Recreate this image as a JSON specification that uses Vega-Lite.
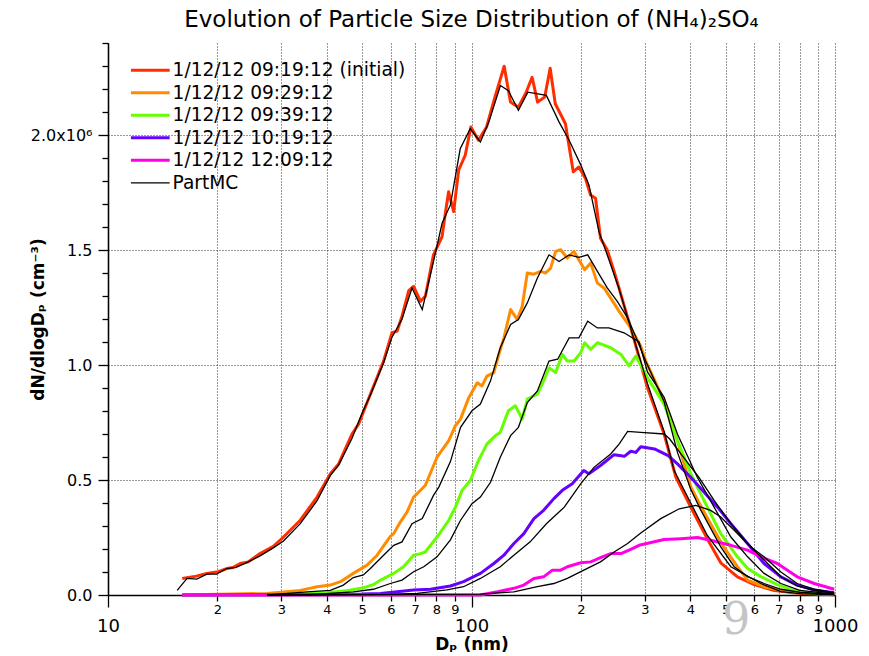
{
"$schema": "https://vega.github.io/schema/vega-lite/v6.json",
"width": 727, "height": 552,
"autosize": {"type": "none"},
"padding": {"left": 108, "top": 43, "right": 34, "bottom": 61},
"background": "white",
"title": {"text": "Evolution of Particle Size Distribution of (NH₄)₂SO₄", "fontSize": 23, "font": "DejaVu Sans", "fontWeight": "normal", "anchor": "middle", "offset": 10, "color": "black"},
"config": {
 "view": {"stroke": null},
 "axis": {"domainColor": "black", "tickColor": "black", "labelColor": "black", "titleColor": "black", "gridColor": "#333", "gridDash": [1, 2], "gridOpacity": 1, "gridWidth": 1, "labelFont": "DejaVu Sans", "titleFont": "DejaVu Sans", "domainWidth": 1.3, "tickWidth": 1.3}
},
"datasets": {
 "meas": [
{"s":"1/12/12 09:19:12 (initial)","d":16,"v":72000},{"s":"1/12/12 09:19:12 (initial)","d":17.5,"v":82000},{"s":"1/12/12 09:19:12 (initial)","d":18.7,"v":94000},{"s":"1/12/12 09:19:12 (initial)","d":20.1,"v":101000},{"s":"1/12/12 09:19:12 (initial)","d":21.2,"v":115000},{"s":"1/12/12 09:19:12 (initial)","d":22.1,"v":120000},{"s":"1/12/12 09:19:12 (initial)","d":23.1,"v":137000},{"s":"1/12/12 09:19:12 (initial)","d":24.3,"v":144000},{"s":"1/12/12 09:19:12 (initial)","d":26.2,"v":180000},{"s":"1/12/12 09:19:12 (initial)","d":28.5,"v":212000},{"s":"1/12/12 09:19:12 (initial)","d":30.4,"v":252000},{"s":"1/12/12 09:19:12 (initial)","d":33.8,"v":325000},{"s":"1/12/12 09:19:12 (initial)","d":37.6,"v":426000},{"s":"1/12/12 09:19:12 (initial)","d":40.9,"v":527000},{"s":"1/12/12 09:19:12 (initial)","d":43.1,"v":570000},{"s":"1/12/12 09:19:12 (initial)","d":46.9,"v":700000},{"s":"1/12/12 09:19:12 (initial)","d":48.9,"v":743000},{"s":"1/12/12 09:19:12 (initial)","d":52.7,"v":873000},{"s":"1/12/12 09:19:12 (initial)","d":57.3,"v":1017000},{"s":"1/12/12 09:19:12 (initial)","d":60.4,"v":1140000},{"s":"1/12/12 09:19:12 (initial)","d":62.4,"v":1147000},{"s":"1/12/12 09:19:12 (initial)","d":64.4,"v":1212000},{"s":"1/12/12 09:19:12 (initial)","d":67.2,"v":1323000},{"s":"1/12/12 09:19:12 (initial)","d":69.3,"v":1342000},{"s":"1/12/12 09:19:12 (initial)","d":72.4,"v":1277000},{"s":"1/12/12 09:19:12 (initial)","d":74.7,"v":1300000},{"s":"1/12/12 09:19:12 (initial)","d":78.6,"v":1479000},{"s":"1/12/12 09:19:12 (initial)","d":83,"v":1558000},{"s":"1/12/12 09:19:12 (initial)","d":84.6,"v":1652000},{"s":"1/12/12 09:19:12 (initial)","d":86.5,"v":1753000},{"s":"1/12/12 09:19:12 (initial)","d":89.3,"v":1667000},{"s":"1/12/12 09:19:12 (initial)","d":92.2,"v":1847000},{"s":"1/12/12 09:19:12 (initial)","d":96.1,"v":1912000},{"s":"1/12/12 09:19:12 (initial)","d":99.6,"v":2035000},{"s":"1/12/12 09:19:12 (initial)","d":104.5,"v":1977000},{"s":"1/12/12 09:19:12 (initial)","d":110,"v":2035000},{"s":"1/12/12 09:19:12 (initial)","d":116,"v":2165000},{"s":"1/12/12 09:19:12 (initial)","d":123,"v":2299000},{"s":"1/12/12 09:19:12 (initial)","d":128,"v":2143000},{"s":"1/12/12 09:19:12 (initial)","d":134.6,"v":2121000},{"s":"1/12/12 09:19:12 (initial)","d":141.4,"v":2186000},{"s":"1/12/12 09:19:12 (initial)","d":146.8,"v":2251000},{"s":"1/12/12 09:19:12 (initial)","d":152,"v":2143000},{"s":"1/12/12 09:19:12 (initial)","d":159,"v":2165000},{"s":"1/12/12 09:19:12 (initial)","d":164.6,"v":2290000},{"s":"1/12/12 09:19:12 (initial)","d":170,"v":2136000},{"s":"1/12/12 09:19:12 (initial)","d":181.3,"v":2049000},{"s":"1/12/12 09:19:12 (initial)","d":190.5,"v":1840000},{"s":"1/12/12 09:19:12 (initial)","d":197.4,"v":1861000},{"s":"1/12/12 09:19:12 (initial)","d":206,"v":1810000},{"s":"1/12/12 09:19:12 (initial)","d":212.6,"v":1739000},{"s":"1/12/12 09:19:12 (initial)","d":219.4,"v":1725000},{"s":"1/12/12 09:19:12 (initial)","d":226.4,"v":1551000},{"s":"1/12/12 09:19:12 (initial)","d":236.3,"v":1500000},{"s":"1/12/12 09:19:12 (initial)","d":246.8,"v":1407000},{"s":"1/12/12 09:19:12 (initial)","d":257.7,"v":1306000},{"s":"1/12/12 09:19:12 (initial)","d":280.9,"v":1104000},{"s":"1/12/12 09:19:12 (initial)","d":304.8,"v":902000},{"s":"1/12/12 09:19:12 (initial)","d":338.8,"v":700000},{"s":"1/12/12 09:19:12 (initial)","d":365,"v":512000},{"s":"1/12/12 09:19:12 (initial)","d":401,"v":382000},{"s":"1/12/12 09:19:12 (initial)","d":445,"v":245000},{"s":"1/12/12 09:19:12 (initial)","d":485,"v":140000},{"s":"1/12/12 09:19:12 (initial)","d":539,"v":79000},{"s":"1/12/12 09:19:12 (initial)","d":600,"v":45000},{"s":"1/12/12 09:19:12 (initial)","d":681,"v":19000},{"s":"1/12/12 09:19:12 (initial)","d":805,"v":7000},{"s":"1/12/12 09:19:12 (initial)","d":995,"v":1000},
{"s":"1/12/12 09:29:12","d":16,"v":0},{"s":"1/12/12 09:29:12","d":27.4,"v":7000},{"s":"1/12/12 09:29:12","d":33.8,"v":20000},{"s":"1/12/12 09:29:12","d":37.6,"v":36000},{"s":"1/12/12 09:29:12","d":40.9,"v":43000},{"s":"1/12/12 09:29:12","d":43.6,"v":58000},{"s":"1/12/12 09:29:12","d":47.3,"v":94000},{"s":"1/12/12 09:29:12","d":51.6,"v":130000},{"s":"1/12/12 09:29:12","d":55,"v":173000},{"s":"1/12/12 09:29:12","d":59.8,"v":255000},{"s":"1/12/12 09:29:12","d":61.1,"v":267000},{"s":"1/12/12 09:29:12","d":63.7,"v":317000},{"s":"1/12/12 09:29:12","d":66.5,"v":361000},{"s":"1/12/12 09:29:12","d":69.3,"v":426000},{"s":"1/12/12 09:29:12","d":70.8,"v":440000},{"s":"1/12/12 09:29:12","d":74.6,"v":476000},{"s":"1/12/12 09:29:12","d":80.4,"v":599000},{"s":"1/12/12 09:29:12","d":86.6,"v":671000},{"s":"1/12/12 09:29:12","d":90.3,"v":736000},{"s":"1/12/12 09:29:12","d":93.3,"v":765000},{"s":"1/12/12 09:29:12","d":98.3,"v":858000},{"s":"1/12/12 09:29:12","d":103.7,"v":923000},{"s":"1/12/12 09:29:12","d":106.9,"v":909000},{"s":"1/12/12 09:29:12","d":110.3,"v":952000},{"s":"1/12/12 09:29:12","d":115.2,"v":967000},{"s":"1/12/12 09:29:12","d":118.9,"v":1046000},{"s":"1/12/12 09:29:12","d":122.8,"v":1118000},{"s":"1/12/12 09:29:12","d":128.1,"v":1241000},{"s":"1/12/12 09:29:12","d":133.6,"v":1198000},{"s":"1/12/12 09:29:12","d":137.9,"v":1255000},{"s":"1/12/12 09:29:12","d":142.4,"v":1400000},{"s":"1/12/12 09:29:12","d":148.5,"v":1395000},{"s":"1/12/12 09:29:12","d":154.9,"v":1407000},{"s":"1/12/12 09:29:12","d":159.9,"v":1400000},{"s":"1/12/12 09:29:12","d":165.1,"v":1421000},{"s":"1/12/12 09:29:12","d":170.4,"v":1494000},{"s":"1/12/12 09:29:12","d":175.9,"v":1501000},{"s":"1/12/12 09:29:12","d":183.5,"v":1465000},{"s":"1/12/12 09:29:12","d":191.4,"v":1494000},{"s":"1/12/12 09:29:12","d":204.8,"v":1414000},{"s":"1/12/12 09:29:12","d":212.8,"v":1443000},{"s":"1/12/12 09:29:12","d":222,"v":1356000},{"s":"1/12/12 09:29:12","d":231.5,"v":1335000},{"s":"1/12/12 09:29:12","d":241.5,"v":1291000},{"s":"1/12/12 09:29:12","d":254.6,"v":1234000},{"s":"1/12/12 09:29:12","d":274.2,"v":1161000},{"s":"1/12/12 09:29:12","d":292.2,"v":1082000},{"s":"1/12/12 09:29:12","d":301.5,"v":1017000},{"s":"1/12/12 09:29:12","d":338.8,"v":844000},{"s":"1/12/12 09:29:12","d":368.6,"v":671000},{"s":"1/12/12 09:29:12","d":401,"v":470000},{"s":"1/12/12 09:29:12","d":436.5,"v":360000},{"s":"1/12/12 09:29:12","d":494,"v":209000},{"s":"1/12/12 09:29:12","d":539,"v":123000},{"s":"1/12/12 09:29:12","d":575,"v":65000},{"s":"1/12/12 09:29:12","d":638,"v":36000},{"s":"1/12/12 09:29:12","d":741,"v":14000},{"s":"1/12/12 09:29:12","d":877,"v":7000},{"s":"1/12/12 09:29:12","d":995,"v":4000},
{"s":"1/12/12 09:39:12","d":16,"v":0},{"s":"1/12/12 09:39:12","d":30,"v":2000},{"s":"1/12/12 09:39:12","d":35,"v":5000},{"s":"1/12/12 09:39:12","d":40,"v":10000},{"s":"1/12/12 09:39:12","d":45,"v":18000},{"s":"1/12/12 09:39:12","d":50,"v":30000},{"s":"1/12/12 09:39:12","d":53.7,"v":45000},{"s":"1/12/12 09:39:12","d":56.2,"v":65000},{"s":"1/12/12 09:39:12","d":61.1,"v":94000},{"s":"1/12/12 09:39:12","d":65,"v":123000},{"s":"1/12/12 09:39:12","d":69.3,"v":173000},{"s":"1/12/12 09:39:12","d":72.4,"v":180000},{"s":"1/12/12 09:39:12","d":74.6,"v":187000},{"s":"1/12/12 09:39:12","d":80.4,"v":252000},{"s":"1/12/12 09:39:12","d":86.6,"v":325000},{"s":"1/12/12 09:39:12","d":90.3,"v":382000},{"s":"1/12/12 09:39:12","d":94.2,"v":455000},{"s":"1/12/12 09:39:12","d":99.2,"v":498000},{"s":"1/12/12 09:39:12","d":104.5,"v":584000},{"s":"1/12/12 09:39:12","d":110.3,"v":657000},{"s":"1/12/12 09:39:12","d":116.5,"v":693000},{"s":"1/12/12 09:39:12","d":120,"v":707000},{"s":"1/12/12 09:39:12","d":126.3,"v":801000},{"s":"1/12/12 09:39:12","d":132,"v":823000},{"s":"1/12/12 09:39:12","d":137.9,"v":765000},{"s":"1/12/12 09:39:12","d":142.4,"v":852000},{"s":"1/12/12 09:39:12","d":151.8,"v":873000},{"s":"1/12/12 09:39:12","d":157.9,"v":931000},{"s":"1/12/12 09:39:12","d":163.4,"v":988000},{"s":"1/12/12 09:39:12","d":170.4,"v":967000},{"s":"1/12/12 09:39:12","d":177.8,"v":1046000},{"s":"1/12/12 09:39:12","d":183.5,"v":1017000},{"s":"1/12/12 09:39:12","d":191.4,"v":1017000},{"s":"1/12/12 09:39:12","d":199.7,"v":1053000},{"s":"1/12/12 09:39:12","d":204.8,"v":1097000},{"s":"1/12/12 09:39:12","d":212.8,"v":1068000},{"s":"1/12/12 09:39:12","d":222,"v":1097000},{"s":"1/12/12 09:39:12","d":241.5,"v":1075000},{"s":"1/12/12 09:39:12","d":257.7,"v":1046000},{"s":"1/12/12 09:39:12","d":271.3,"v":996000},{"s":"1/12/12 09:39:12","d":283.1,"v":1039000},{"s":"1/12/12 09:39:12","d":304.8,"v":945000},{"s":"1/12/12 09:39:12","d":338.8,"v":830000},{"s":"1/12/12 09:39:12","d":368.6,"v":671000},{"s":"1/12/12 09:39:12","d":401,"v":527000},{"s":"1/12/12 09:39:12","d":450,"v":368000},{"s":"1/12/12 09:39:12","d":485,"v":267000},{"s":"1/12/12 09:39:12","d":539,"v":166000},{"s":"1/12/12 09:39:12","d":575,"v":115000},{"s":"1/12/12 09:39:12","d":625,"v":80000},{"s":"1/12/12 09:39:12","d":694,"v":45000},{"s":"1/12/12 09:39:12","d":760,"v":22000},{"s":"1/12/12 09:39:12","d":840,"v":10000},{"s":"1/12/12 09:39:12","d":995,"v":4000},
{"s":"1/12/12 10:19:12","d":16,"v":0},{"s":"1/12/12 10:19:12","d":40,"v":2000},{"s":"1/12/12 10:19:12","d":50,"v":4000},{"s":"1/12/12 10:19:12","d":56.2,"v":7000},{"s":"1/12/12 10:19:12","d":69.3,"v":22000},{"s":"1/12/12 10:19:12","d":77.1,"v":25000},{"s":"1/12/12 10:19:12","d":87.5,"v":39000},{"s":"1/12/12 10:19:12","d":95.1,"v":58000},{"s":"1/12/12 10:19:12","d":105.8,"v":94000},{"s":"1/12/12 10:19:12","d":115.2,"v":137000},{"s":"1/12/12 10:19:12","d":122.8,"v":173000},{"s":"1/12/12 10:19:12","d":130.8,"v":224000},{"s":"1/12/12 10:19:12","d":139.3,"v":267000},{"s":"1/12/12 10:19:12","d":148.5,"v":332000},{"s":"1/12/12 10:19:12","d":157.9,"v":368000},{"s":"1/12/12 10:19:12","d":168.5,"v":419000},{"s":"1/12/12 10:19:12","d":177.8,"v":455000},{"s":"1/12/12 10:19:12","d":189.3,"v":484000},{"s":"1/12/12 10:19:12","d":203.7,"v":541000},{"s":"1/12/12 10:19:12","d":210.3,"v":527000},{"s":"1/12/12 10:19:12","d":226.4,"v":563000},{"s":"1/12/12 10:19:12","d":246.8,"v":610000},{"s":"1/12/12 10:19:12","d":263.3,"v":603000},{"s":"1/12/12 10:19:12","d":274.2,"v":625000},{"s":"1/12/12 10:19:12","d":283.1,"v":620000},{"s":"1/12/12 10:19:12","d":292.2,"v":645000},{"s":"1/12/12 10:19:12","d":318.7,"v":635000},{"s":"1/12/12 10:19:12","d":347.6,"v":606000},{"s":"1/12/12 10:19:12","d":368.6,"v":570000},{"s":"1/12/12 10:19:12","d":401,"v":512000},{"s":"1/12/12 10:19:12","d":436.5,"v":447000},{"s":"1/12/12 10:19:12","d":475.2,"v":382000},{"s":"1/12/12 10:19:12","d":517,"v":310000},{"s":"1/12/12 10:19:12","d":574.6,"v":224000},{"s":"1/12/12 10:19:12","d":638,"v":137000},{"s":"1/12/12 10:19:12","d":709.7,"v":79000},{"s":"1/12/12 10:19:12","d":787,"v":43000},{"s":"1/12/12 10:19:12","d":877,"v":22000},{"s":"1/12/12 10:19:12","d":995,"v":10000},
{"s":"1/12/12 12:09:12","d":16,"v":0},{"s":"1/12/12 12:09:12","d":105.8,"v":0},{"s":"1/12/12 12:09:12","d":118,"v":14000},{"s":"1/12/12 12:09:12","d":130.8,"v":29000},{"s":"1/12/12 12:09:12","d":139.3,"v":43000},{"s":"1/12/12 12:09:12","d":148.5,"v":72000},{"s":"1/12/12 12:09:12","d":157.9,"v":79000},{"s":"1/12/12 12:09:12","d":166.9,"v":108000},{"s":"1/12/12 12:09:12","d":175.9,"v":108000},{"s":"1/12/12 12:09:12","d":183.5,"v":123000},{"s":"1/12/12 12:09:12","d":199.9,"v":140000},{"s":"1/12/12 12:09:12","d":212.8,"v":144000},{"s":"1/12/12 12:09:12","d":226.4,"v":162000},{"s":"1/12/12 12:09:12","d":241.5,"v":180000},{"s":"1/12/12 12:09:12","d":257.7,"v":180000},{"s":"1/12/12 12:09:12","d":274.2,"v":198000},{"s":"1/12/12 12:09:12","d":289.1,"v":216000},{"s":"1/12/12 12:09:12","d":338.8,"v":241000},{"s":"1/12/12 12:09:12","d":376.8,"v":245000},{"s":"1/12/12 12:09:12","d":418.4,"v":250000},{"s":"1/12/12 12:09:12","d":455,"v":238000},{"s":"1/12/12 12:09:12","d":517,"v":216000},{"s":"1/12/12 12:09:12","d":575,"v":195000},{"s":"1/12/12 12:09:12","d":625,"v":166000},{"s":"1/12/12 12:09:12","d":694,"v":137000},{"s":"1/12/12 12:09:12","d":787,"v":79000},{"s":"1/12/12 12:09:12","d":877,"v":50000},{"s":"1/12/12 12:09:12","d":995,"v":25000}
 ],
 "model": [
{"s":"PartMC","r":1,"d":15.5,"v":20000},{"s":"PartMC","r":1,"d":16.5,"v":72000},{"s":"PartMC","r":1,"d":17.55,"v":69000},{"s":"PartMC","r":1,"d":18.7,"v":91000},{"s":"PartMC","r":1,"d":19.9,"v":91000},{"s":"PartMC","r":1,"d":21.2,"v":115000},{"s":"PartMC","r":1,"d":22.5,"v":120000},{"s":"PartMC","r":1,"d":24,"v":140000},{"s":"PartMC","r":1,"d":26.2,"v":170000},{"s":"PartMC","r":1,"d":28.5,"v":205000},{"s":"PartMC","r":1,"d":30.4,"v":235000},{"s":"PartMC","r":1,"d":33.8,"v":310000},{"s":"PartMC","r":1,"d":37.6,"v":410000},{"s":"PartMC","r":1,"d":40.9,"v":520000},{"s":"PartMC","r":1,"d":43.1,"v":565000},{"s":"PartMC","r":1,"d":46.9,"v":680000},{"s":"PartMC","r":1,"d":50,"v":790000},{"s":"PartMC","r":1,"d":52.7,"v":870000},{"s":"PartMC","r":1,"d":57.3,"v":1010000},{"s":"PartMC","r":1,"d":60.4,"v":1120000},{"s":"PartMC","r":1,"d":64.4,"v":1200000},{"s":"PartMC","r":1,"d":68.6,"v":1335000},{"s":"PartMC","r":1,"d":73.2,"v":1241000},{"s":"PartMC","r":1,"d":78.6,"v":1450000},{"s":"PartMC","r":1,"d":83,"v":1616000},{"s":"PartMC","r":1,"d":87.5,"v":1696000},{"s":"PartMC","r":1,"d":93.1,"v":1940000},{"s":"PartMC","r":1,"d":99.2,"v":2027000},{"s":"PartMC","r":1,"d":105.8,"v":1970000},{"s":"PartMC","r":1,"d":111.6,"v":2056000},{"s":"PartMC","r":1,"d":120.1,"v":2215000},{"s":"PartMC","r":1,"d":126.3,"v":2193000},{"s":"PartMC","r":1,"d":134.6,"v":2107000},{"s":"PartMC","r":1,"d":142.9,"v":2186000},{"s":"PartMC","r":1,"d":160.7,"v":2172000},{"s":"PartMC","r":1,"d":174.2,"v":2056000},{"s":"PartMC","r":1,"d":185.6,"v":1977000},{"s":"PartMC","r":1,"d":199.9,"v":1869000},{"s":"PartMC","r":1,"d":210.5,"v":1782000},{"s":"PartMC","r":1,"d":224.2,"v":1580000},{"s":"PartMC","r":1,"d":241.5,"v":1436000},{"s":"PartMC","r":1,"d":255,"v":1328000},{"s":"PartMC","r":1,"d":280.9,"v":1104000},{"s":"PartMC","r":1,"d":304.8,"v":920000},{"s":"PartMC","r":1,"d":338.8,"v":710000},{"s":"PartMC","r":1,"d":361,"v":541000},{"s":"PartMC","r":1,"d":401,"v":400000},{"s":"PartMC","r":1,"d":445,"v":260000},{"s":"PartMC","r":1,"d":517,"v":123000},{"s":"PartMC","r":1,"d":625,"v":50000},{"s":"PartMC","r":1,"d":710,"v":15000},{"s":"PartMC","r":1,"d":800,"v":6000},{"s":"PartMC","r":1,"d":995,"v":1000},
{"s":"PartMC","r":2,"d":27.4,"v":0},{"s":"PartMC","r":2,"d":35.3,"v":14000},{"s":"PartMC","r":2,"d":40.9,"v":20000},{"s":"PartMC","r":2,"d":44.4,"v":43000},{"s":"PartMC","r":2,"d":47.3,"v":76000},{"s":"PartMC","r":2,"d":50.4,"v":87000},{"s":"PartMC","r":2,"d":52.7,"v":115000},{"s":"PartMC","r":2,"d":57.3,"v":173000},{"s":"PartMC","r":2,"d":61.1,"v":216000},{"s":"PartMC","r":2,"d":64.4,"v":231000},{"s":"PartMC","r":2,"d":68.6,"v":310000},{"s":"PartMC","r":2,"d":73.2,"v":332000},{"s":"PartMC","r":2,"d":78.6,"v":433000},{"s":"PartMC","r":2,"d":81.3,"v":469000},{"s":"PartMC","r":2,"d":87.5,"v":580000},{"s":"PartMC","r":2,"d":93.3,"v":729000},{"s":"PartMC","r":2,"d":100.3,"v":801000},{"s":"PartMC","r":2,"d":105.8,"v":830000},{"s":"PartMC","r":2,"d":112.8,"v":931000},{"s":"PartMC","r":2,"d":120,"v":1075000},{"s":"PartMC","r":2,"d":128.1,"v":1176000},{"s":"PartMC","r":2,"d":134.6,"v":1198000},{"s":"PartMC","r":2,"d":142.4,"v":1270000},{"s":"PartMC","r":2,"d":151.8,"v":1378000},{"s":"PartMC","r":2,"d":163.4,"v":1479000},{"s":"PartMC","r":2,"d":174.2,"v":1450000},{"s":"PartMC","r":2,"d":185.6,"v":1479000},{"s":"PartMC","r":2,"d":197.4,"v":1468000},{"s":"PartMC","r":2,"d":208.8,"v":1479000},{"s":"PartMC","r":2,"d":222,"v":1407000},{"s":"PartMC","r":2,"d":236.3,"v":1335000},{"s":"PartMC","r":2,"d":251.8,"v":1277000},{"s":"PartMC","r":2,"d":268.8,"v":1205000},{"s":"PartMC","r":2,"d":286.2,"v":1104000},{"s":"PartMC","r":2,"d":301,"v":1020000},{"s":"PartMC","r":2,"d":338.8,"v":840000},{"s":"PartMC","r":2,"d":368.6,"v":620000},{"s":"PartMC","r":2,"d":401,"v":460000},{"s":"PartMC","r":2,"d":427,"v":370000},{"s":"PartMC","r":2,"d":485,"v":209000},{"s":"PartMC","r":2,"d":528,"v":123000},{"s":"PartMC","r":2,"d":575,"v":80000},{"s":"PartMC","r":2,"d":638,"v":50000},{"s":"PartMC","r":2,"d":710,"v":25000},{"s":"PartMC","r":2,"d":800,"v":12000},{"s":"PartMC","r":2,"d":995,"v":3000},
{"s":"PartMC","r":3,"d":35,"v":0},{"s":"PartMC","r":3,"d":47.3,"v":14000},{"s":"PartMC","r":3,"d":53.7,"v":25000},{"s":"PartMC","r":3,"d":59.8,"v":50000},{"s":"PartMC","r":3,"d":64.4,"v":65000},{"s":"PartMC","r":3,"d":69.3,"v":101000},{"s":"PartMC","r":3,"d":73.9,"v":123000},{"s":"PartMC","r":3,"d":80.4,"v":166000},{"s":"PartMC","r":3,"d":87.5,"v":240000},{"s":"PartMC","r":3,"d":93.3,"v":325000},{"s":"PartMC","r":3,"d":100.3,"v":397000},{"s":"PartMC","r":3,"d":105.8,"v":426000},{"s":"PartMC","r":3,"d":112.8,"v":490000},{"s":"PartMC","r":3,"d":120,"v":599000},{"s":"PartMC","r":3,"d":128.1,"v":693000},{"s":"PartMC","r":3,"d":134.6,"v":729000},{"s":"PartMC","r":3,"d":142.4,"v":837000},{"s":"PartMC","r":3,"d":151.8,"v":887000},{"s":"PartMC","r":3,"d":163.4,"v":1017000},{"s":"PartMC","r":3,"d":172.6,"v":1025000},{"s":"PartMC","r":3,"d":185.6,"v":1118000},{"s":"PartMC","r":3,"d":197.4,"v":1118000},{"s":"PartMC","r":3,"d":208.8,"v":1190000},{"s":"PartMC","r":3,"d":222,"v":1161000},{"s":"PartMC","r":3,"d":238.8,"v":1161000},{"s":"PartMC","r":3,"d":262.8,"v":1140000},{"s":"PartMC","r":3,"d":289.1,"v":1100000},{"s":"PartMC","r":3,"d":304.8,"v":970000},{"s":"PartMC","r":3,"d":338.8,"v":860000},{"s":"PartMC","r":3,"d":368.6,"v":700000},{"s":"PartMC","r":3,"d":418,"v":512000},{"s":"PartMC","r":3,"d":465,"v":382000},{"s":"PartMC","r":3,"d":517,"v":252000},{"s":"PartMC","r":3,"d":575,"v":166000},{"s":"PartMC","r":3,"d":638,"v":94000},{"s":"PartMC","r":3,"d":710,"v":50000},{"s":"PartMC","r":3,"d":800,"v":20000},{"s":"PartMC","r":3,"d":995,"v":4000},
{"s":"PartMC","r":4,"d":27.4,"v":0},{"s":"PartMC","r":4,"d":60,"v":3000},{"s":"PartMC","r":4,"d":70.8,"v":7000},{"s":"PartMC","r":4,"d":85.6,"v":22000},{"s":"PartMC","r":4,"d":95.1,"v":36000},{"s":"PartMC","r":4,"d":105.8,"v":72000},{"s":"PartMC","r":4,"d":120,"v":123000},{"s":"PartMC","r":4,"d":130.8,"v":173000},{"s":"PartMC","r":4,"d":145,"v":231000},{"s":"PartMC","r":4,"d":160.7,"v":310000},{"s":"PartMC","r":4,"d":180,"v":382000},{"s":"PartMC","r":4,"d":199.9,"v":484000},{"s":"PartMC","r":4,"d":217.2,"v":555000},{"s":"PartMC","r":4,"d":241.5,"v":613000},{"s":"PartMC","r":4,"d":255,"v":657000},{"s":"PartMC","r":4,"d":268.8,"v":711000},{"s":"PartMC","r":4,"d":292.2,"v":707000},{"s":"PartMC","r":4,"d":338.8,"v":700000},{"s":"PartMC","r":4,"d":351,"v":678000},{"s":"PartMC","r":4,"d":380,"v":606000},{"s":"PartMC","r":4,"d":422,"v":512000},{"s":"PartMC","r":4,"d":465,"v":411000},{"s":"PartMC","r":4,"d":517,"v":310000},{"s":"PartMC","r":4,"d":575,"v":224000},{"s":"PartMC","r":4,"d":638,"v":152000},{"s":"PartMC","r":4,"d":710,"v":79000},{"s":"PartMC","r":4,"d":787,"v":40000},{"s":"PartMC","r":4,"d":877,"v":20000},{"s":"PartMC","r":4,"d":995,"v":8000},
{"s":"PartMC","r":5,"d":27.4,"v":0},{"s":"PartMC","r":5,"d":105.8,"v":4000},{"s":"PartMC","r":5,"d":130.8,"v":14000},{"s":"PartMC","r":5,"d":151.8,"v":36000},{"s":"PartMC","r":5,"d":168.5,"v":50000},{"s":"PartMC","r":5,"d":183.5,"v":72000},{"s":"PartMC","r":5,"d":203.7,"v":108000},{"s":"PartMC","r":5,"d":226.4,"v":144000},{"s":"PartMC","r":5,"d":246.8,"v":187000},{"s":"PartMC","r":5,"d":268.8,"v":224000},{"s":"PartMC","r":5,"d":292.2,"v":270000},{"s":"PartMC","r":5,"d":331.6,"v":332000},{"s":"PartMC","r":5,"d":373,"v":375000},{"s":"PartMC","r":5,"d":413.7,"v":390000},{"s":"PartMC","r":5,"d":455,"v":368000},{"s":"PartMC","r":5,"d":485,"v":339000},{"s":"PartMC","r":5,"d":528,"v":281000},{"s":"PartMC","r":5,"d":587,"v":209000},{"s":"PartMC","r":5,"d":638,"v":166000},{"s":"PartMC","r":5,"d":710,"v":100000},{"s":"PartMC","r":5,"d":787,"v":50000},{"s":"PartMC","r":5,"d":877,"v":25000},{"s":"PartMC","r":5,"d":995,"v":10000}
 ],
 "stamp": [{"d": 535, "v": -112000, "t": "9"}]
},
"resolve": {"axis": {"x": "independent", "y": "independent"}},
"layer": [
 {
  "data": {"name": "meas"},
  "mark": {"type": "line", "strokeWidth": 3, "strokeJoin": "round"},
  "encoding": {
   "x": {"field": "d", "type": "quantitative", "scale": {"type": "log", "domain": [10, 1000]},
    "axis": {"orient": "bottom", "values": [10, 100, 1000], "format": "d", "labelFontSize": 18, "tickSize": 12, "labelPadding": 10, "grid": true, "labelFlush": false, "labelOverlap": false, "title": "Dₚ (nm)", "titleFontSize": 17, "titleFontWeight": "bold", "titleY": 49, "titleBaseline": "middle"}},
   "y": {"field": "v", "type": "quantitative", "scale": {"domain": [0, 2400000], "nice": false, "zero": true},
    "axis": {"orient": "left", "values": [0, 500000, 1000000, 1500000, 2000000], "labelExpr": "datum.value == 2000000 ? '2.0x10⁶' : format(datum.value / 1000000, '.1f')", "labelFontSize": 16, "tickSize": 10, "labelPadding": 6, "grid": true, "labelFlush": false, "title": "dN/dlogDₚ (cm⁻³)", "titleFontSize": 17, "titleFontWeight": "bold", "titleX": -70, "titleY": 276, "titleBaseline": "middle", "titleAngle": 270}},
   "color": {"field": "s", "type": "nominal",
    "scale": {"domain": ["1/12/12 09:19:12 (initial)", "1/12/12 09:29:12", "1/12/12 09:39:12", "1/12/12 10:19:12", "1/12/12 12:09:12", "PartMC"], "range": ["#FF2E00", "#FF8C00", "#66FF00", "#6600FF", "#FF00E6", "#000000"]},
    "legend": {"orient": "none", "legendX": 33, "legendY": 18, "title": null, "symbolType": "stroke", "symbolSize": 1500, "symbolStrokeWidth": 3, "labelFontSize": 18.6, "labelFont": "DejaVu Sans", "labelColor": "black", "labelLimit": 0, "rowPadding": 3.5, "labelOffset": 13, "padding": 0,
     "encode": {"symbols": {"update": {"strokeWidth": {"signal": "datum.value === 'PartMC' ? 1.3 : 3"}}}}}},
   "order": {"field": "d", "type": "quantitative"}
  }
 },
 {
  "data": {"name": "model"},
  "mark": {"type": "line", "strokeWidth": 1.3, "color": "black"},
  "encoding": {
   "x": {"field": "d", "type": "quantitative", "scale": {"type": "log", "domain": [10, 1000]},
    "axis": {"orient": "bottom", "values": [20, 30, 40, 50, 60, 70, 80, 90, 200, 300, 400, 500, 600, 700, 800, 900], "labelExpr": "substring(toString(datum.value), 0, 1)", "labelFontSize": 13, "tickSize": 6, "labelPadding": 2, "grid": true, "domain": false, "labelOverlap": false, "title": null}},
   "y": {"field": "v", "type": "quantitative", "scale": {"domain": [0, 2400000], "nice": false, "zero": true},
    "axis": {"orient": "left", "values": [100000, 200000, 300000, 400000, 600000, 700000, 800000, 900000, 1100000, 1200000, 1300000, 1400000, 1600000, 1700000, 1800000, 1900000, 2100000, 2200000, 2300000, 2400000], "labels": false, "tickSize": 6, "grid": false, "title": null}},
   "color": {"field": "s", "type": "nominal",
    "legend": {"orient": "none", "legendX": 33, "legendY": 18, "title": null, "symbolType": "stroke", "symbolSize": 1500, "symbolStrokeWidth": 3, "labelFontSize": 18.6, "labelFont": "DejaVu Sans", "labelColor": "black", "labelLimit": 0, "rowPadding": 3.5, "labelOffset": 13, "padding": 0,
     "encode": {"symbols": {"update": {"strokeWidth": {"signal": "datum.value === 'PartMC' ? 1.3 : 3"}}}}}},
   "detail": {"field": "r", "type": "nominal"},
   "order": {"field": "d", "type": "quantitative"}
  }
 },
 {
  "data": {"name": "stamp"},
  "mark": {"type": "text", "font": "DejaVu Serif", "fontSize": 44, "color": "#c4c4c4", "baseline": "middle", "align": "center"},
  "encoding": {
   "x": {"field": "d", "type": "quantitative", "scale": {"type": "log", "domain": [10, 1000]}, "axis": null},
   "y": {"field": "v", "type": "quantitative", "scale": {"domain": [0, 2400000], "nice": false}, "axis": null},
   "text": {"field": "t"}
  }
 }
]
}
